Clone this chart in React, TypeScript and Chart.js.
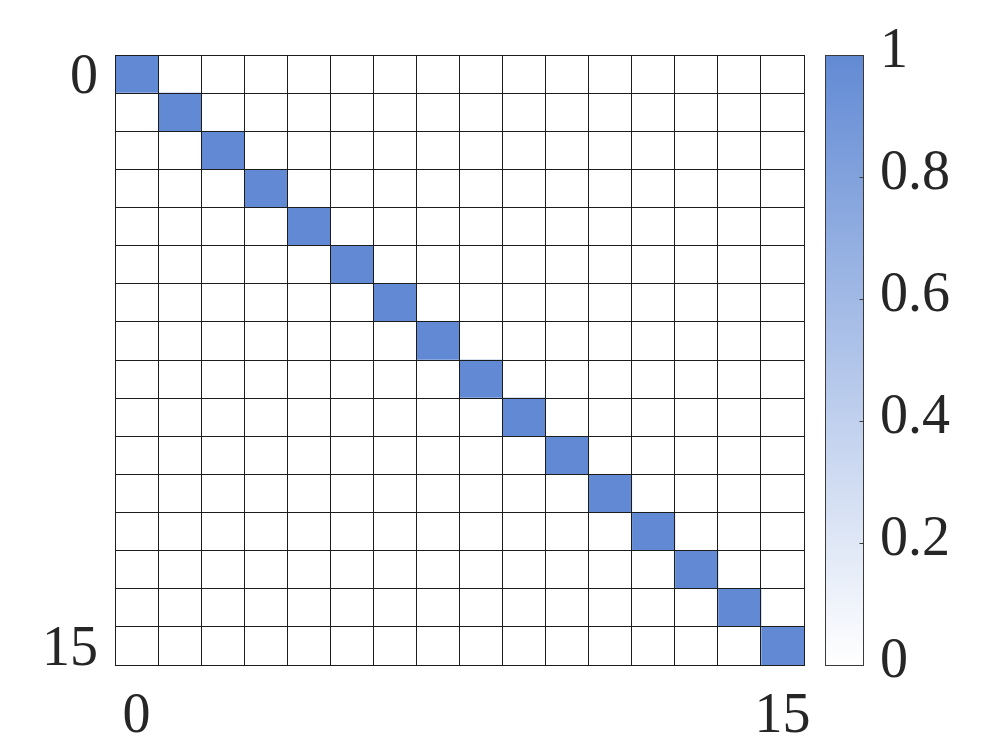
import React, { useEffect, useRef } from "react";
import { Chart, registerables } from "chart.js";

Chart.register(...registerables);

const rowLabels = ["0", "1", "2", "3", "4", "5", "6", "7", "8", "9", "10", "11", "12", "13", "14", "15"];
const colLabels = ["0", "1", "2", "3", "4", "5", "6", "7", "8", "9", "10", "11", "12", "13", "14", "15"];
const cellValues: number[][] = [
  [1, 0, 0, 0, 0, 0, 0, 0, 0, 0, 0, 0, 0, 0, 0, 0],
  [0, 1, 0, 0, 0, 0, 0, 0, 0, 0, 0, 0, 0, 0, 0, 0],
  [0, 0, 1, 0, 0, 0, 0, 0, 0, 0, 0, 0, 0, 0, 0, 0],
  [0, 0, 0, 1, 0, 0, 0, 0, 0, 0, 0, 0, 0, 0, 0, 0],
  [0, 0, 0, 0, 1, 0, 0, 0, 0, 0, 0, 0, 0, 0, 0, 0],
  [0, 0, 0, 0, 0, 1, 0, 0, 0, 0, 0, 0, 0, 0, 0, 0],
  [0, 0, 0, 0, 0, 0, 1, 0, 0, 0, 0, 0, 0, 0, 0, 0],
  [0, 0, 0, 0, 0, 0, 0, 1, 0, 0, 0, 0, 0, 0, 0, 0],
  [0, 0, 0, 0, 0, 0, 0, 0, 1, 0, 0, 0, 0, 0, 0, 0],
  [0, 0, 0, 0, 0, 0, 0, 0, 0, 1, 0, 0, 0, 0, 0, 0],
  [0, 0, 0, 0, 0, 0, 0, 0, 0, 0, 1, 0, 0, 0, 0, 0],
  [0, 0, 0, 0, 0, 0, 0, 0, 0, 0, 0, 1, 0, 0, 0, 0],
  [0, 0, 0, 0, 0, 0, 0, 0, 0, 0, 0, 0, 1, 0, 0, 0],
  [0, 0, 0, 0, 0, 0, 0, 0, 0, 0, 0, 0, 0, 1, 0, 0],
  [0, 0, 0, 0, 0, 0, 0, 0, 0, 0, 0, 0, 0, 0, 1, 0],
  [0, 0, 0, 0, 0, 0, 0, 0, 0, 0, 0, 0, 0, 0, 0, 1],
];
const colorbarTicks = [0, 0.2, 0.4, 0.6, 0.8, 1];
const shownTickIndices = [0, 15];

const LOW = [255, 255, 255];
const HIGH = [98, 138, 212];
function colorFor(v: number): string {
  const c = LOW.map((l, i) => Math.round(l + (HIGH[i] - l) * v));
  return `rgb(${c[0]},${c[1]},${c[2]})`;
}

const FONT = "'Liberation Serif', 'Times New Roman', serif";
const TEXT = "#262626";
const LINE = "#1c1c1c";

function zeroVPad(s: any) {
  s.paddingTop = 0;
  s.paddingBottom = 0;
}
function zeroHPad(s: any) {
  s.paddingLeft = 0;
  s.paddingRight = 0;
}

const colorbarPlugin = {
  id: "colorbar",
  afterDraw(chart: any) {
    const cb = chart.scales.cb;
    const area = chart.chartArea;
    const ctx = chart.ctx;
    const top = cb.getPixelForValue(1);
    const bottom = cb.getPixelForValue(0);
    const left = area.right + 21.5;
    const width = 38;
    const grad = ctx.createLinearGradient(0, bottom, 0, top);
    grad.addColorStop(0, colorFor(0));
    grad.addColorStop(1, colorFor(1));
    ctx.save();
    ctx.fillStyle = grad;
    ctx.fillRect(left, top, width, bottom - top);
    ctx.strokeStyle = "#3a3a3a";
    ctx.lineWidth = 1;
    ctx.beginPath();
    colorbarTicks.forEach((t) => {
      if (t === 0 || t === 1) return;
      const y = Math.round(cb.getPixelForValue(t)) + 0.5;
      ctx.moveTo(left + width - 4, y);
      ctx.lineTo(left + width, y);
    });
    ctx.stroke();
    ctx.strokeRect(left, Math.round(top) + 0.5, width, Math.round(bottom - top));
    ctx.restore();
  },
};

export default function App() {
  const ref = useRef<HTMLCanvasElement | null>(null);
  useEffect(() => {
    if (!ref.current) return;
    Chart.defaults.font.family = FONT;
    Chart.defaults.color = TEXT;
    const datasets = colLabels.map((c, j) => ({
      label: c,
      data: rowLabels.map(() => 1),
      backgroundColor: cellValues.map((row) => colorFor(row[j])),
      borderWidth: 0,
      barPercentage: 1,
      categoryPercentage: 1,
    }));
    const chart = new Chart(ref.current, {
      type: "bar",
      data: { labels: rowLabels, datasets },
      plugins: [colorbarPlugin],
      options: {
        animation: false,
        responsive: false,
        indexAxis: "y",
        layout: { padding: { top: 55, left: 0, right: 0, bottom: 0 } },
        plugins: { legend: { display: false }, tooltip: { enabled: false } },
        scales: {
          x: {
            type: "linear",
            stacked: true,
            min: 0,
            max: 16,
            position: "bottom",
            ticks: { display: false, stepSize: 1 },
            grid: { color: LINE, lineWidth: 1, drawTicks: false, z: 1 },
            border: { display: true, color: LINE, width: 1, z: 1 },
            afterFit: (s: any) => {
              s.height = 0;
              zeroHPad(s);
            },
          },
          xc: {
            type: "category",
            labels: colLabels,
            position: "bottom",
            offset: true,
            grid: { display: false, drawTicks: false },
            border: { display: false },
            ticks: {
              autoSkip: false,
              maxRotation: 0,
              padding: 19,
              font: { size: 56, family: FONT },
              color: TEXT,
              callback: function (this: any, v: any, i: number) {
                return shownTickIndices.includes(i) ? colLabels[i] : "";
              },
            },
            afterFit: (s: any) => {
              s.height = 82;
              zeroHPad(s);
            },
          },
          y: {
            type: "category",
            stacked: true,
            position: "left",
            offset: true,
            grid: { color: LINE, lineWidth: 1, offset: true, drawTicks: false, z: 1 },
            border: { display: true, color: LINE, width: 1, z: 1 },
            ticks: {
              autoSkip: false,
              padding: 17,
              labelOffset: 4,
              font: { size: 56, family: FONT },
              color: TEXT,
              callback: function (this: any, v: any, i: number) {
                return shownTickIndices.includes(i) ? rowLabels[i] : "";
              },
            },
            afterFit: (s: any) => {
              s.width = 115;
              zeroVPad(s);
            },
          },
          cb: {
            type: "linear",
            position: "right",
            min: 0,
            max: 1,
            offset: false,
            grid: { display: false, drawTicks: false, offset: false },
            border: { display: false },
            afterBuildTicks: (s: any) => {
              s.ticks = colorbarTicks.map((v) => ({ value: v }));
            },
            ticks: {
              padding: 76,
              labelOffset: -3,
              font: { size: 56, family: FONT },
              color: TEXT,
              callback: (v: any) => String(v),
            },
            afterFit: (s: any) => {
              s.width = 192;
              zeroVPad(s);
            },
          },
        },
      } as any,
    });
    return () => chart.destroy();
  }, []);
  return (
    <div style={{ position: "fixed", left: 0, top: 0, width: 996, height: 747, background: "#fff" }}>
      <canvas ref={ref} width={996} height={747} style={{ display: "block" }} />
    </div>
  );
}
